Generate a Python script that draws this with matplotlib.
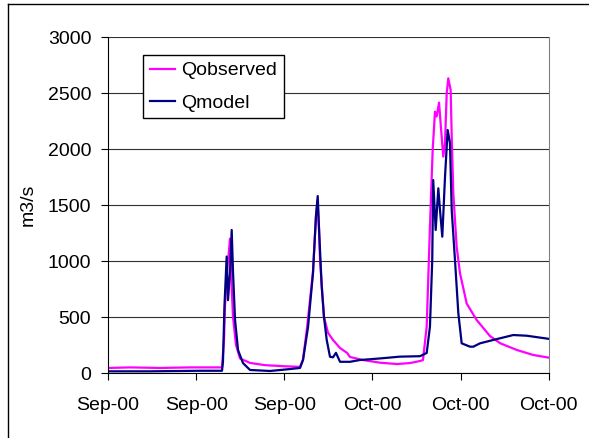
import numpy as np
import pandas as pd
import matplotlib
matplotlib.use("Agg")
import matplotlib.pyplot as plt
import matplotlib.dates as mdates
from matplotlib.lines import Line2D

plt.rcParams['font.family'] = ['Liberation Sans', 'DejaVu Sans']

# days after 1 Sep 2000
obs_days = [0.0, 2.5, 5.9, 9.3, 12.93, 13.16, 13.27, 13.5, 13.73, 13.84, 13.95, 14.18,
            14.52, 14.97, 16.11, 17.81, 20.08, 21.78, 22.12, 22.57, 22.91, 23.25, 23.59,
            23.76, 23.93, 24.05, 24.5, 24.95, 25.52, 26.32, 27.11, 27.45, 28.92, 30.85,
            32.79, 34.26, 35.39, 35.73, 36.15, 36.52, 36.83, 37.09, 37.28, 37.55, 37.85,
            38.03, 38.23, 38.42, 38.6, 38.87, 38.99, 39.17, 39.55, 39.93, 40.69, 41.82,
            43.33, 44.5, 46.4, 48.24, 50.0]
obs_vals = [45, 50, 45, 50, 50, 300, 600, 900, 1100, 1200, 900, 500,
            250, 130, 90, 70, 60, 55, 120, 400, 650, 900, 1400,
            1540, 1300, 1010, 500, 360, 295, 223, 180, 143, 116, 92,
            80, 89, 107, 116, 413, 1306, 1990, 2333, 2290, 2414, 2110,
            1932, 2054, 2497, 2631, 2527, 2110, 1605, 1128, 890, 620, 473,
            330, 265, 205, 161, 137]

mod_days = [0.0, 4.8, 10.4, 12.93, 13.04, 13.21, 13.46, 13.61, 13.84, 14.03, 14.18,
            14.41, 14.75, 15.31, 16.11, 18.38, 20.6, 21.78, 22.12, 22.69, 23.25, 23.59,
            23.79, 23.93, 24.24, 24.5, 24.81, 25.18, 25.52, 25.86, 26.32, 27.45, 28.58,
            30.85, 33.12, 35.39, 36.15, 36.52, 36.78, 36.89, 37.17, 37.47, 37.66, 37.92,
            38.23, 38.53, 38.79, 38.99, 39.36, 39.74, 40.12, 41.06, 41.44, 42.2, 43.7,
            45.97, 47.49, 50.0]
mod_vals = [15, 15, 20, 20, 100, 600, 1040, 650, 900, 1277, 900,
            473, 205, 89, 27, 18, 35, 45, 116, 410, 890, 1400,
            1580, 1300, 770, 500, 295, 145, 140, 180, 100, 100, 116,
            130, 146, 150, 179, 413, 1009, 1723, 1277, 1649, 1455, 1217,
            1753, 2170, 2054, 1455, 1009, 533, 265, 235, 235, 265, 295,
            339, 333, 305]

start = pd.Timestamp('2000-09-01')
obs_t = start + pd.to_timedelta(obs_days, unit='D')
mod_t = start + pd.to_timedelta(mod_days, unit='D')

fig = plt.figure(figsize=(5.89, 4.38), dpi=100)
ax = fig.add_axes([0.1834, 0.1484, 0.7483, 0.7671])

ax.plot(obs_t, obs_vals, color='#FF00FF', lw=1.6, label='Qobserved')
ax.plot(mod_t, mod_vals, color='#000080', lw=1.6, label='Qmodel')

ax.set_xlim(start, start + pd.Timedelta(days=50))
ax.set_ylim(0, 3000)
ax.set_yticks(np.arange(0, 3001, 500))
ax.xaxis.set_major_locator(mdates.DayLocator(bymonthday=[1, 11, 21]))
ax.xaxis.set_major_formatter(mdates.DateFormatter('%b-%y'))

ax.yaxis.grid(True, color='#303030', lw=0.8)
ax.set_axisbelow(True)
ax.spines['top'].set_visible(False)
ax.spines['right'].set_color('#808080')
ax.tick_params(axis='both', labelsize=14, direction='out', length=5, width=0.8)
ax.tick_params(axis='y', pad=7)
ax.tick_params(axis='x', pad=12)
ax.set_ylabel('m3/s', fontsize=14, labelpad=8)

ax.legend(loc='upper left', bbox_to_anchor=(0.0794, 0.9464), borderaxespad=0,
          fontsize=14, frameon=True, fancybox=False, framealpha=1,
          edgecolor='black', handlelength=1.3, handletextpad=0.3,
          labelspacing=0.75, borderpad=0.35)

# chart area border (left and top edges visible)
fig.add_artist(Line2D([8/589, 8/589], [0, 1 - 4/438], color='black', lw=1,
                      transform=fig.transFigure))
fig.add_artist(Line2D([8/589, 1], [1 - 4/438, 1 - 4/438], color='black', lw=1,
                      transform=fig.transFigure))

fig.savefig('out.png', dpi=100)
